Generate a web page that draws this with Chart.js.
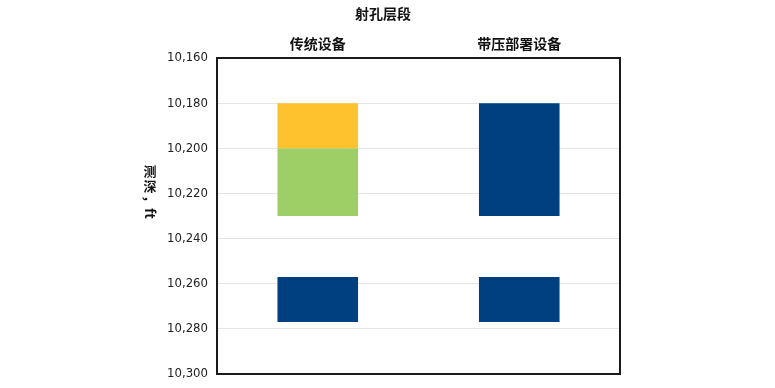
<!DOCTYPE html>
<html>
<head>
<meta charset="utf-8">
<script src="https://cdn.jsdelivr.net/npm/chart.js@4/dist/chart.umd.min.js"></script>
<style>
  html, body { margin: 0; padding: 0; background: #fff; }
  #wrap { width: 775px; height: 388px; }
</style>
</head>
<body>
<div id="wrap"><canvas id="myChart"></canvas></div>
<script>
// categories and depth intervals (ft), [top, bottom]
var categories = ['传统设备', '带压部署设备'];
var yellowRange = [[10180, 10200], null];
var greenRange = [[10200, 10230], null];
var upperBlue = [null, [10180, 10230]];
var lowerBlue = [[10257, 10277], [10257, 10277]];
var depthMin = 10160, depthMax = 10300, depthStep = 20;
var chartTitle = '射孔层段';

var cjkFont = '"Noto Sans CJK SC", "Noto Sans", sans-serif';
var narrowFont = '"Liberation Sans Narrow", "DejaVu Sans Condensed", "Liberation Sans", sans-serif';

// title, black frame round the plot, vertical axis title
var framePlugin = {
    id: 'frame',
    afterDraw: function (chart) {
        var a = chart.chartArea, ctx = chart.ctx;
        ctx.save();
        ctx.strokeStyle = '#1a1a1a';
        ctx.lineWidth = 2;
        ctx.strokeRect(a.left, a.top, a.right - a.left, a.bottom - a.top);

        ctx.fillStyle = '#111';
        ctx.textAlign = 'center';
        ctx.textBaseline = 'middle';
        ctx.font = 'bold 14px ' + cjkFont;
        ctx.fillText(chartTitle, 383, 14);

        // 测深，ft written top to bottom
        ctx.font = 'bold 13px ' + cjkFont;
        var x = 150, y = 171;
        ['测', '深'].forEach(function (ch) {
            ctx.fillText(ch, x, y);
            y += 15;
        });
        ctx.translate(x, y + 6);
        ctx.rotate(Math.PI / 2);
        ctx.fillText('，ft', 0, 0);
        ctx.restore();
    }
};

function bar(data, color) {
    return {
        data: data,
        backgroundColor: color,
        borderColor: color,
        borderWidth: 0,
        borderSkipped: false,
        barPercentage: 0.4,
        categoryPercentage: 1.0
    };
}

new Chart(document.getElementById('myChart'), {
    type: 'bar',
    data: {
        labels: categories,
        datasets: [
            bar(yellowRange, '#FFC22F'),
            bar(greenRange, '#9ECF67'),
            bar(upperBlue, '#004080'),
            bar(lowerBlue, '#004080')
        ]
    },
    options: {
        responsive: true,
        maintainAspectRatio: false,
        animation: false,
        layout: { padding: { left: 0, right: 155, top: 29, bottom: 14 } },
        plugins: {
            legend: { display: false },
            tooltip: { enabled: false },
            title: { display: false }
        },
        scales: {
            x: {
                position: 'top',
                stacked: true,
                grid: { display: false, drawTicks: false },
                border: { display: false },
                ticks: {
                    color: '#111',
                    font: { family: cjkFont, size: 14, weight: 'bold' },
                    padding: 6
                },
                afterFit: function (s) { s.height = 29; }
            },
            y: {
                reverse: true,
                min: depthMin,
                max: depthMax,
                grid: { color: '#e4e4e4', drawTicks: false },
                border: { display: false },
                ticks: {
                    stepSize: depthStep,
                    color: '#222',
                    padding: 9,
                    font: { family: narrowFont, size: 13 },
                    callback: function (v) { return v.toLocaleString('en-US'); }
                },
                afterFit: function (s) {
                    s.width = 217;
                    s.paddingTop = 0;
                    s.paddingBottom = 0;
                }
            }
        }
    },
    plugins: [framePlugin]
});
</script>
</body>
</html>
